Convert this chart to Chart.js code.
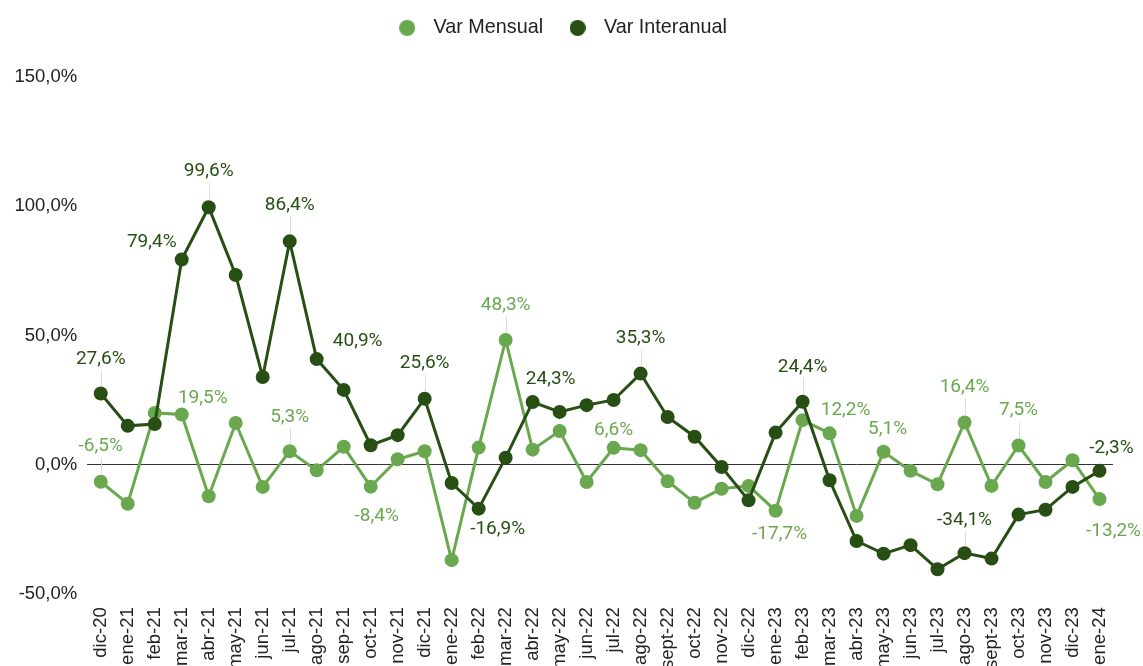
<!DOCTYPE html>
<html>
<head>
<meta charset="utf-8">
<script src="https://cdn.jsdelivr.net/npm/chart.js@4.4.1/dist/chart.umd.min.js"></script>
<style>
  html, body { margin: 0; padding: 0; background: #ffffff; overflow: hidden; }
  #wrap { width: 1143px; height: 666px; position: relative; overflow: hidden; }
</style>
</head>
<body>
<div id="wrap"><canvas id="c" width="1143" height="682"></canvas></div>
<script>
// ---- Data ----
const categories = ['dic-20','ene-21','feb-21','mar-21','abr-21','may-21','jun-21','jul-21','ago-21','sep-21','oct-21','nov-21','dic-21','ene-22','feb-22','mar-22','abr-22','may-22','jun-22','jul-22','ago-22','sept-22','oct-22','nov-22','dic-22','ene-23','feb-23','mar-23','abr-23','may-23','jun-23','jul-23','ago-23','sept-23','oct-23','nov-23','dic-23','ene-24'];
const varMensual = [-6.5,-15.0,20.1,19.5,-12.1,16.2,-8.5,5.3,-2.1,7.0,-8.4,2.2,5.3,-36.8,6.7,48.3,5.9,13.1,-6.6,6.6,5.7,-6.3,-14.6,-9.2,-8.1,-17.7,17.3,12.2,-19.7,5.1,-2.3,-7.5,16.4,-8.1,7.5,-6.6,1.8,-13.2];
const varInteranual = [27.6,15.1,15.8,79.4,99.6,73.4,34.0,86.4,40.9,29.0,7.6,11.5,25.6,-7.0,-16.9,2.8,24.3,20.5,23.1,25.1,35.3,18.5,10.9,-0.8,-13.7,12.5,24.4,-5.9,-29.4,-34.3,-31.0,-40.3,-34.1,-36.2,-19.2,-17.3,-8.5,-2.3];
const seriesNames = ['Var Mensual', 'Var Interanual'];
const yTicks = [-50, 0, 50, 100, 150];
// indices of points that carry a value label
const mensualLabeled = [0,3,7,10,15,19,25,27,29,32,34,37];
const interanualLabeled = [0,3,4,7,8,12,14,16,20,26,32,37];

// ---- Styles ----
const LIGHT = '#6aa84f';
const DARK = '#274e13';
const fmt = v => v.toFixed(1).replace('.', ',') + '%';

// label placement (style only): [dx, dy, leader]
const labelPlacement = {
  0: { // Var Mensual
    0:[0,-35,true], 3:[21,-16,false], 7:[0,-34,true], 10:[6,30,false], 15:[0,-35,true],
    19:[0,-18,false], 25:[4,24,false], 27:[16,-23,false], 29:[4,-22,false], 32:[0,-35,true],
    34:[0,-35,true], 37:[14,32,false]
  },
  1: { // Var Interanual
    0:[0,-34,true], 3:[-30,-17,false], 4:[0,-36,true], 7:[0,-36,true], 8:[41,-18,false],
    12:[0,-35,true], 14:[19,21,false], 16:[18,-23,false], 20:[0,-35,true], 26:[0,-35,true],
    32:[0,-33,true], 37:[12,-23,false]
  }
};
const labeledIdx = [mensualLabeled, interanualLabeled];

function legendDot(color) {
  const cv = document.createElement('canvas');
  cv.width = 16; cv.height = 16;
  const g = cv.getContext('2d');
  g.fillStyle = color;
  g.beginPath(); g.arc(8, 8, 8, 0, Math.PI * 2); g.fill();
  return cv;
}
const legendDots = [legendDot(LIGHT), legendDot(DARK)];

const valueLabels = {
  id: 'valueLabels',
  afterDatasetsDraw(chart) {
    const ctx = chart.ctx;
    ctx.save();
    ctx.font = '19px Roboto';
    ctx.textAlign = 'center';
    ctx.textBaseline = 'middle';
    chart.data.datasets.forEach((ds, di) => {
      const meta = chart.getDatasetMeta(di);
      labeledIdx[di].forEach(i => {
        const pt = meta.data[i];
        const pl = labelPlacement[di][i] || [0, -30, false];
        const tx = pt.x + pl[0], ty = pt.y + pl[1];
        if (pl[2]) {
          ctx.strokeStyle = '#dddddd';
          ctx.lineWidth = 1;
          ctx.beginPath();
          ctx.moveTo(Math.round(pt.x) + 0.5, ty + 11);
          ctx.lineTo(Math.round(pt.x) + 0.5, pt.y - 7);
          ctx.stroke();
        }
        ctx.fillStyle = ds.borderColor;
        ctx.fillText(fmt(ds.data[i]), tx, ty);
      });
    });
    ctx.restore();
  }
};

const legendSpace = {
  id: 'legendSpace',
  beforeInit(chart) {
    const orig = chart.legend.fit;
    chart.legend.fit = function () { orig.call(this); this.height += 29; };
  }
};

new Chart(document.getElementById('c'), {
  type: 'line',
  data: {
    labels: categories,
    datasets: [
      { label: seriesNames[0], data: varMensual, borderColor: LIGHT, backgroundColor: LIGHT,
        borderWidth: 3, pointRadius: 7, pointHoverRadius: 7, pointBorderWidth: 0, tension: 0, order: 1 },
      { label: seriesNames[1], data: varInteranual, borderColor: DARK, backgroundColor: DARK,
        borderWidth: 3, pointRadius: 7, pointHoverRadius: 7, pointBorderWidth: 0, tension: 0, order: 0 }
    ]
  },
  options: {
    responsive: false,
    animation: false,
    layout: { padding: { left: 4.5, right: 30, top: 0, bottom: 0 } },
    plugins: {
      tooltip: { enabled: false },
      legend: {
        position: 'top',
        labels: {
          usePointStyle: true,
          pointStyleWidth: 33,
          boxHeight: 16,
          padding: 18,
          color: '#222222',
          font: { family: 'Liberation Sans', size: 19.8 },
          generateLabels: chart => chart.data.datasets.map((ds, i) => ({
            text: ds.label, fillStyle: ds.backgroundColor, strokeStyle: ds.borderColor,
            lineWidth: 0, pointStyle: legendDots[i], hidden: !chart.isDatasetVisible(i),
            datasetIndex: i, fontColor: '#222222'
          }))
        }
      }
    },
    scales: {
      x: {
        offset: true,
        grid: { display: false, drawTicks: false },
        border: { display: false },
        ticks: {
          autoSkip: false, maxRotation: 90, minRotation: 90, padding: 13,
          color: '#222222', font: { family: 'Liberation Sans', size: 18.5 }
        }
      },
      y: {
        min: -50, max: 150,
        afterBuildTicks: axis => { axis.ticks = yTicks.map(v => ({ value: v })); },
        border: { display: false },
        grid: {
          drawTicks: false,
          color: c => (c.tick && c.tick.value === 0) ? '#333333' : 'rgba(0,0,0,0)',
          lineWidth: 1
        },
        ticks: {
          padding: 10, color: '#222222', font: { family: 'Liberation Sans', size: 18.5 },
          callback: v => fmt(v)
        }
      }
    }
  },
  plugins: [legendSpace, valueLabels]
});
</script>
</body>
</html>
